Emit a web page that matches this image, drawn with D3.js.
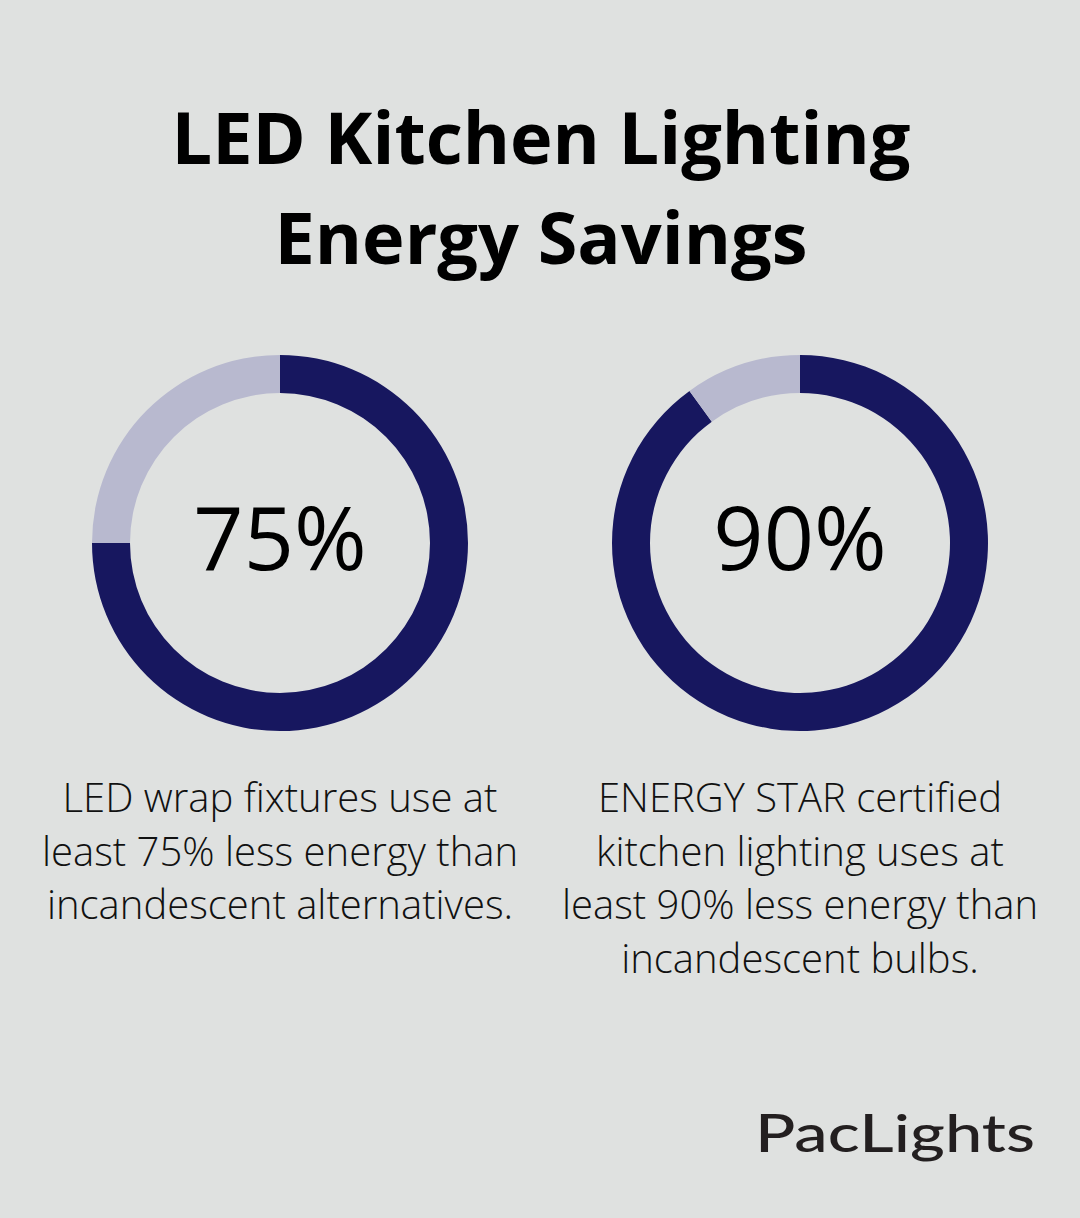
<!DOCTYPE html>
<html>
<head>
<meta charset="utf-8">
<script src="https://cdn.jsdelivr.net/npm/d3@7"></script>
<style>
  body { margin: 0; background: #dfe1e0; }
  svg { display: block; }
</style>
</head>
<body>
<svg id="chart" width="1080" height="1218"></svg>
<script>
// values
const titleLines = ["LED Kitchen Lighting", "Energy Savings"];
const savings = [75, 90];
const valueLabels = ["75%", "90%"];
const captions = [
    ["LED wrap fixtures use at", "least 75% less energy than", "incandescent alternatives."],
    ["ENERGY STAR certified", "kitchen lighting uses at", "least 90% less energy than", "incandescent bulbs."]
];
const brand = "PacLights";

const W = 1080, H = 1218;
const svg = d3.select("#chart");

svg.append("rect").attr("width", W).attr("height", H).attr("fill", "#dfe1e0");

// title
svg.append("g").selectAll("text")
    .data(titleLines)
    .join("text")
    .attr("x", 541)
    .attr("y", (d, i) => 164 + i * 100)
    .attr("text-anchor", "middle")
    .attr("font-family", "'Open Sans', sans-serif")
    .attr("font-weight", 700)
    .attr("font-size", 72)
    .attr("fill", "#000")
    .text(d => d);

// one column per donut
const x = d3.scalePoint().domain(d3.range(savings.length)).range([280, 800]);
const pie = d3.pie().sort(null).value(d => d);
const arc = d3.arc().innerRadius(150).outerRadius(188);
const colors = ["#17175f", "#b8b9cf"];

const cols = svg.selectAll("g.col")
    .data(savings)
    .join("g")
    .attr("class", "col")
    .attr("transform", (d, i) => `translate(${x(i)},543)`);

cols.selectAll("path")
    .data(d => pie([d, 100 - d]))
    .join("path")
    .attr("d", arc)
    .attr("fill", (d, i) => colors[i]);

cols.append("text")
    .attr("y", 27)
    .attr("text-anchor", "middle")
    .attr("font-family", "'Open Sans', sans-serif")
    .attr("font-size", 88)
    .attr("fill", "#000")
    .text((d, i) => valueLabels[i]);

cols.append("g")
    .selectAll("text")
    .data((d, i) => captions[i])
    .join("text")
    .attr("y", (d, i) => 269 + i * 53.5)
    .attr("text-anchor", "middle")
    .attr("font-family", "'Open Sans', sans-serif")
    .attr("font-weight", 300)
    .attr("font-size", 40)
    .attr("fill", "#111")
    .text(d => d);

// logo
svg.append("text")
    .attr("x", 755)
    .attr("y", 1152)
    .attr("font-family", "Lato, sans-serif")
    .attr("font-weight", 500)
    .attr("font-size", 52)
    .attr("textLength", 280)
    .attr("lengthAdjust", "spacingAndGlyphs")
    .attr("fill", "#231f20")
    .text(brand);
</script>
</body>
</html>
